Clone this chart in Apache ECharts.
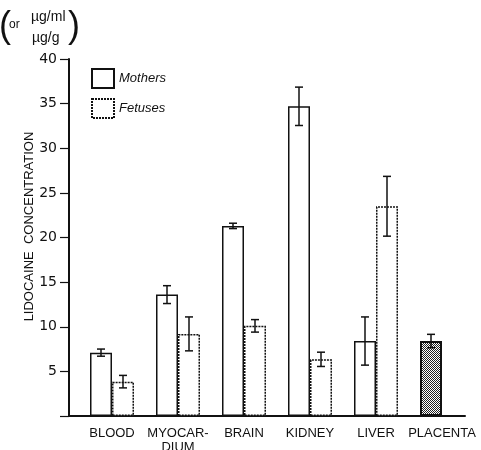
<!DOCTYPE html>
<html>
<head>
<meta charset="utf-8">
<script src="https://cdn.jsdelivr.net/npm/echarts@6/dist/echarts.min.js"></script>
<style>
  html, body { margin: 0; padding: 0; background: #fff; }
  #chart { width: 481px; height: 450px; }
</style>
</head>
<body>
<div id="chart"></div>
<script>
var categories = ['BLOOD', 'MYOCAR-\nDIUM', 'BRAIN', 'KIDNEY', 'LIVER', 'PLACENTA'];
var mothersMean = [7.1, 13.6, 21.3, 34.7, 8.4];
var mothersErr = [0.4, 1.0, 0.3, 2.15, 2.7];
var fetusMean = [3.85, 9.2, 10.1, 6.35, 23.5];
var fetusErr = [0.7, 1.9, 0.7, 0.8, 3.35];
var placentaMean = 8.4;
var placentaErr = 0.75;
var yTicks = [5, 10, 15, 20, 25, 30, 35, 40];

var FONT = 'Liberation Sans';
var BAR_W = 22;

// stipple for the placenta bar
var dots = document.createElement('canvas');
dots.width = 2; dots.height = 2;
var dctx = dots.getContext('2d');
dctx.fillStyle = '#fff'; dctx.fillRect(0, 0, 2, 2);
dctx.fillStyle = '#222'; dctx.fillRect(0, 0, 1, 1); dctx.fillRect(1, 1, 1, 1);

var mothersData = mothersMean.slice();
mothersData.push({
    value: placentaMean,
    itemStyle: { color: { image: dots, repeat: 'repeat' }, borderColor: '#111', borderWidth: 2, borderType: 'solid' }
});

// [categoryIndex, mean, err, pixel offset]
var errData = [];
mothersMean.forEach(function (v, i) { errData.push([i, v, mothersErr[i], -BAR_W / 2]); });
fetusMean.forEach(function (v, i) { errData.push([i, v, fetusErr[i], BAR_W / 2]); });
errData.push([5, placentaMean, placentaErr, -BAR_W / 2]);

var myChart = echarts.init(document.getElementById('chart'));
var option = {
    backgroundColor: '#fff',
    animation: false,
    grid: [
        { left: 79, right: 6, top: 59, bottom: 34, outerBoundsMode: 'none' },   // bars
        { left: 69, right: 16, top: 59, bottom: 34, outerBoundsMode: 'none' }   // visible axes
    ],
    legend: {
        orient: 'vertical',
        left: 91, top: 68, padding: 0,
        itemWidth: 22, itemHeight: 19, itemGap: 9,
        icon: 'rect',
        data: [
            { name: 'Mothers' },
            { name: 'Fetuses', itemStyle: { borderType: [2, 1] } }
        ],
        textStyle: { fontFamily: FONT, fontSize: 13, fontStyle: 'italic', color: '#111' }
    },
    xAxis: [
        {
            type: 'category', gridIndex: 0, data: categories,
            axisLine: { show: false }, axisTick: { show: false },
            axisLabel: {
                interval: 0, margin: 10, color: '#111',
                fontFamily: FONT, fontSize: 13, lineHeight: 14
            }
        },
        {
            type: 'value', gridIndex: 1, min: 0, max: 1,
            axisLine: { show: true, lineStyle: { color: '#111', width: 2 } },
            axisTick: { show: false }, axisLabel: { show: false }, splitLine: { show: false }
        }
    ],
    yAxis: [
        {
            type: 'value', gridIndex: 0, min: 0, max: 40, show: false
        },
        {
            type: 'value', gridIndex: 1, min: 0, max: 40, interval: 5,
            name: 'LIDOCAINE  CONCENTRATION',
            nameLocation: 'middle', nameGap: 33, nameMoveOverlap: false,
            nameTextStyle: { fontFamily: FONT, fontSize: 13, color: '#111', padding: [0, 0, 0, 22] },
            axisLine: { show: true, lineStyle: { color: '#111', width: 2 } },
            axisTick: { show: true, length: 9, lineStyle: { color: '#111', width: 1.2 } },
            axisLabel: {
                color: '#111', fontFamily: 'DejaVu Sans', fontSize: 14, margin: 12,
                formatter: function (v) { return yTicks.indexOf(v) >= 0 ? String(v) : ''; }
            },
            splitLine: { show: false }
        }
    ],
    graphic: [
        { type: 'text', left: -1, top: 9, style: { text: '(', font: '36px ' + FONT, fill: '#111' } },
        { type: 'text', left: 9, top: 19, style: { text: 'or', font: '12px ' + FONT, fill: '#111' } },
        { type: 'text', left: 31, top: 10, style: { text: 'µg/ml', font: '14px ' + FONT, fill: '#111' } },
        { type: 'text', left: 32, top: 31, style: { text: 'µg/g', font: '14px ' + FONT, fill: '#111' } },
        { type: 'text', left: 68, top: 9, style: { text: ')', font: '36px ' + FONT, fill: '#111' } }
    ],
    series: [
        {
            name: 'Mothers', type: 'bar', xAxisIndex: 0, yAxisIndex: 0,
            barWidth: BAR_W, barGap: '0%',
            itemStyle: { color: '#fff', borderColor: '#111', borderWidth: 1.5 },
            data: mothersData
        },
        {
            name: 'Fetuses', type: 'bar', xAxisIndex: 0, yAxisIndex: 0,
            barWidth: BAR_W, barGap: '0%',
            itemStyle: { color: '#fff', borderColor: '#111', borderWidth: 1.5, borderType: [2, 1] },
            data: fetusMean
        },
        {
            type: 'custom', xAxisIndex: 0, yAxisIndex: 0, z: 5,
            renderItem: function (params, api) {
                var ci = api.value(0), m = api.value(1), e = api.value(2), off = api.value(3);
                var hi = api.coord([ci, m + e]);
                var lo = api.coord([ci, m - e]);
                var x = hi[0] + off, cap = 4;
                var st = { stroke: '#111', lineWidth: 1.5 };
                return {
                    type: 'group',
                    children: [
                        { type: 'line', shape: { x1: x, y1: hi[1], x2: x, y2: lo[1] }, style: st },
                        { type: 'line', shape: { x1: x - cap, y1: hi[1], x2: x + cap, y2: hi[1] }, style: st },
                        { type: 'line', shape: { x1: x - cap, y1: lo[1], x2: x + cap, y2: lo[1] }, style: st }
                    ]
                };
            },
            data: errData
        }
    ]
};
myChart.setOption(option);
window.addEventListener('resize', function () {
    myChart.resize();
});
</script>
</body>
</html>
